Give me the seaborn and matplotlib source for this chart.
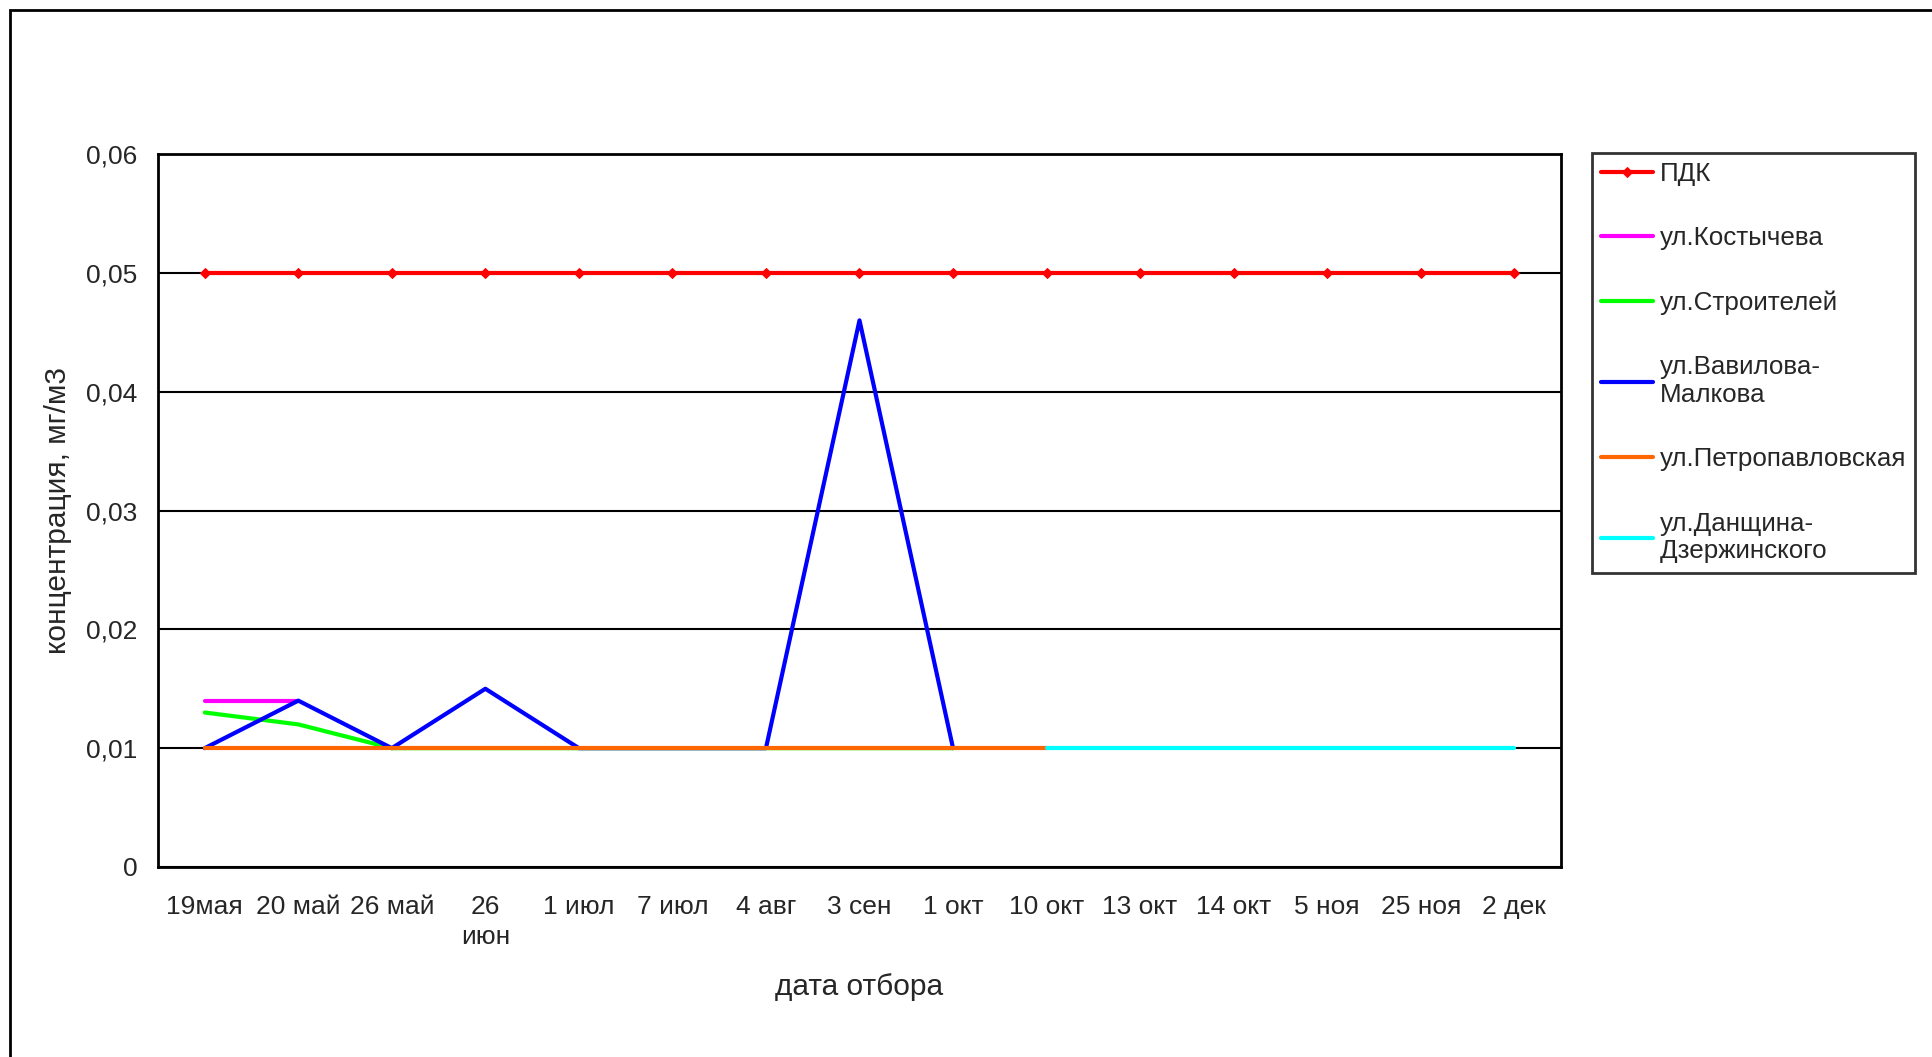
import matplotlib
matplotlib.use("Agg")
import matplotlib.pyplot as plt
import seaborn as sns
import numpy as np
import pandas as pd
from matplotlib.ticker import FixedLocator, FuncFormatter
from matplotlib.patches import Rectangle

nan = np.nan

dates = ["19мая", "20 май", "26 май", "26\nиюн", "1 июл", "7 июл", "4 авг", "3 сен",
         "1 окт", "10 окт", "13 окт", "14 окт", "5 ноя", "25 ноя", "2 дек"]

pdk = [0.05, 0.05, 0.05, 0.05, 0.05, 0.05, 0.05, 0.05, 0.05, 0.05, 0.05, 0.05, 0.05, 0.05, 0.05]
kostycheva = [0.014, 0.014, nan, nan, nan, nan, nan, nan, nan, nan, nan, nan, nan, nan, nan]
stroiteley = [0.013, 0.012, 0.010, 0.010, 0.010, 0.010, 0.010, 0.010, 0.010, nan, nan, nan, nan, nan, nan]
vavilova = [0.010, 0.014, 0.010, 0.015, 0.010, 0.010, 0.010, 0.046, 0.010, nan, nan, nan, nan, nan, nan]
petropavl = [0.010, 0.010, 0.010, 0.010, 0.010, 0.010, 0.010, 0.010, 0.010, 0.010, nan, nan, nan, nan, nan]
danshina = [nan, nan, nan, nan, nan, nan, nan, nan, nan, 0.010, 0.010, 0.010, 0.010, 0.010, 0.010]

series_names = ["ПДК", "ул.Костычева", "ул.Строителей", "ул.Вавилова-\nМалкова",
                "ул.Петропавловская", "ул.Данщина-\nДзержинского"]
series_values = [pdk, kostycheva, stroiteley, vavilova, petropavl, danshina]
series_colors = ["#ff0000", "#ff00ff", "#00ff00", "#0000ff", "#ff6600", "#00ffff"]

sns.set_style("white")
plt.rcParams['font.family'] = ['Liberation Sans', 'DejaVu Sans']
plt.rcParams['font.size'] = 19

fig = plt.figure(figsize=(19.33, 10.57), dpi=100)
W, H = 1933, 1057
ax = fig.add_axes([158 / W, 1 - 867 / H, (1561 - 158) / W, (867 - 154) / H])

# outer chart-area border (clipped at right and bottom like the source)
fig.patches.append(Rectangle((10 / W, -0.1), 1.2, 1 - 10 / H + 0.1, transform=fig.transFigure,
                             fill=False, edgecolor="black", linewidth=2))

for name, vals, col in zip(series_names, series_values, series_colors):
    df = pd.DataFrame({"pos": np.arange(len(dates)), "value": vals}).dropna()
    if name == "ПДК":
        sns.lineplot(data=df, x="pos", y="value", ax=ax, color=col, linewidth=3,
                     marker="D", markersize=5, markeredgecolor=col, label=name)
    else:
        sns.lineplot(data=df, x="pos", y="value", ax=ax, color=col, linewidth=3, label=name)

ax.set_xlim(-0.5, len(dates) - 0.5)
ax.set_ylim(0, 0.06)
ax.yaxis.set_major_locator(FixedLocator([0, 0.01, 0.02, 0.03, 0.04, 0.05, 0.06]))
ax.yaxis.set_major_formatter(FuncFormatter(lambda v, p: "0" if v == 0 else f"{v:.2f}".replace(".", ",")))
ax.grid(axis="y", color="black", linewidth=1.5)
ax.set_axisbelow(True)

ax.set_xticks(np.arange(len(dates)))
ax.set_xticklabels(dates, linespacing=1.35)
ax.set_xticks(np.arange(-0.5, len(dates)), minor=True)
ax.tick_params(axis="x", which="major", length=0, pad=20, labelsize=19)
ax.tick_params(axis="x", which="minor", length=9, width=2, direction="out", color="black")
ax.tick_params(axis="y", which="major", length=9, width=2, direction="out", color="black",
               pad=6, labelsize=19)

for s in ax.spines.values():
    s.set_visible(True)
    s.set_color("black")
    s.set_linewidth(2)

ax.set_xlabel("дата отбора", fontsize=21.5, labelpad=17)
ax.set_ylabel("концентрация, мг/м3", fontsize=21.5, labelpad=10)

leg = ax.legend(loc="upper left", bbox_to_anchor=(1592 / W, 1 - 153 / H),
                bbox_transform=fig.transFigure, fontsize=18.7, frameon=True, fancybox=False,
                handlelength=2.0, handletextpad=0.25, labelspacing=1.55,
                borderpad=0.35, borderaxespad=0)
leg.get_frame().set_edgecolor("black")
leg.get_frame().set_linewidth(2)

fig.savefig("out.png", dpi=100, facecolor="white")
